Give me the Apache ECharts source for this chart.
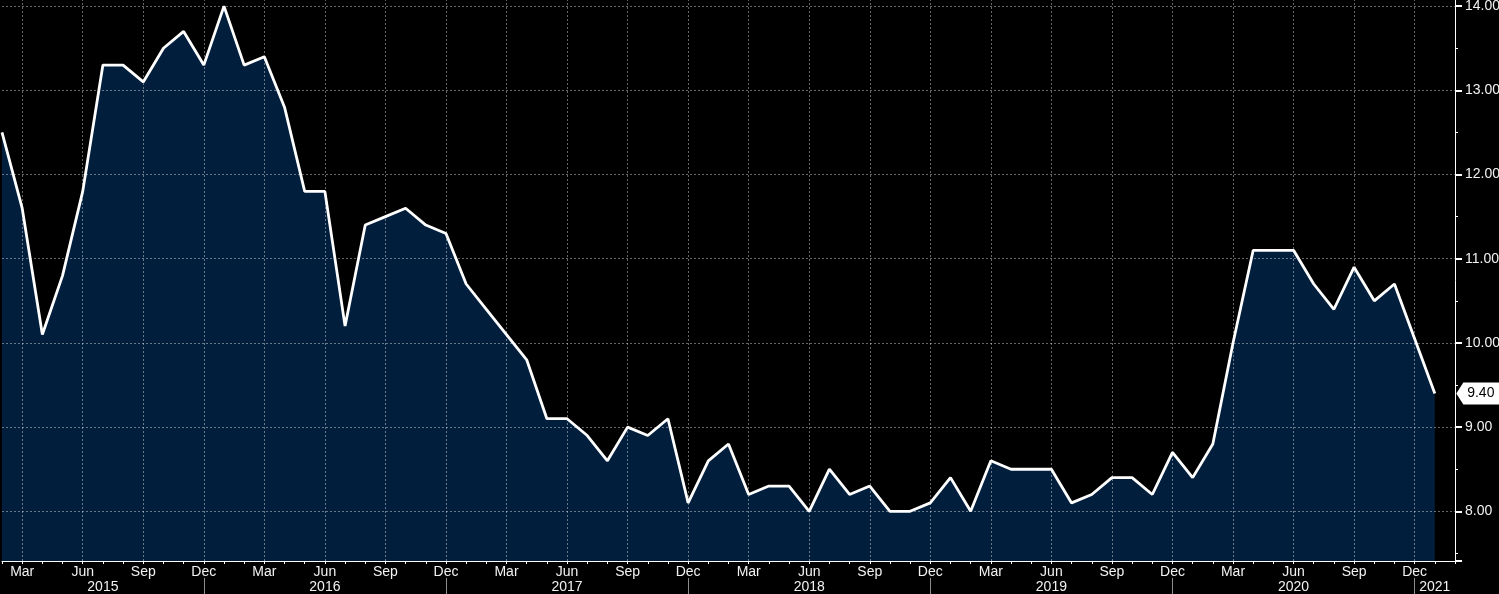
<!DOCTYPE html>
<html>
<head>
<meta charset="utf-8">
<script src="https://cdn.jsdelivr.net/npm/echarts@6/dist/echarts.min.js"></script>
<style>
  html, body { margin: 0; padding: 0; background: #000; }
  #chart { width: 1499px; height: 594px; }
</style>
</head>
<body>
<div id="chart"></div>
<script>
// monthly categories, Feb 2015 .. Feb 2021 (last one is empty room at the right edge)
const months = [
  'Feb 2015', 'Mar 2015', 'Apr 2015', 'May 2015', 'Jun 2015', 'Jul 2015', 'Aug 2015', 'Sep 2015', 'Oct 2015', 'Nov 2015', 'Dec 2015',
  'Jan 2016', 'Feb 2016', 'Mar 2016', 'Apr 2016', 'May 2016', 'Jun 2016', 'Jul 2016', 'Aug 2016', 'Sep 2016', 'Oct 2016', 'Nov 2016', 'Dec 2016',
  'Jan 2017', 'Feb 2017', 'Mar 2017', 'Apr 2017', 'May 2017', 'Jun 2017', 'Jul 2017', 'Aug 2017', 'Sep 2017', 'Oct 2017', 'Nov 2017', 'Dec 2017',
  'Jan 2018', 'Feb 2018', 'Mar 2018', 'Apr 2018', 'May 2018', 'Jun 2018', 'Jul 2018', 'Aug 2018', 'Sep 2018', 'Oct 2018', 'Nov 2018', 'Dec 2018',
  'Jan 2019', 'Feb 2019', 'Mar 2019', 'Apr 2019', 'May 2019', 'Jun 2019', 'Jul 2019', 'Aug 2019', 'Sep 2019', 'Oct 2019', 'Nov 2019', 'Dec 2019',
  'Jan 2020', 'Feb 2020', 'Mar 2020', 'Apr 2020', 'May 2020', 'Jun 2020', 'Jul 2020', 'Aug 2020', 'Sep 2020', 'Oct 2020', 'Nov 2020', 'Dec 2020',
  'Jan 2021', 'Feb 2021'
]

const values = [
  12.5, 11.6, 10.1, 10.8, 11.8, 13.3, 13.3, 13.1, 13.5, 13.7, 13.3,
  14.0, 13.3, 13.4, 12.8, 11.8, 11.8, 10.2, 11.4, 11.5, 11.6, 11.4, 11.3,
  10.7, 10.4, 10.1, 9.8, 9.1, 9.1, 8.9, 8.6, 9.0, 8.9, 9.1, 8.1,
  8.6, 8.8, 8.2, 8.3, 8.3, 8.0, 8.5, 8.2, 8.3, 8.0, 8.0, 8.1,
  8.4, 8.0, 8.6, 8.5, 8.5, 8.5, 8.1, 8.2, 8.4, 8.4, 8.2, 8.7,
  8.4, 8.8, 10.0, 11.1, 11.1, 11.1, 10.7, 10.4, 10.9, 10.5, 10.7, 10.05,
  9.4, null
]

// quarter months that get a label and a grid line
const monthTicks = ['Mar', 'Jun', 'Sep', 'Dec']
// where each year label sits (middle of the visible part of the year)
const yearLabelAt = ['Jul 2015', 'Jun 2016', 'Jun 2017', 'Jun 2018', 'Jun 2019', 'Jun 2020', 'Jan 2021']

const lastIdx = 71
const lastValue = values[lastIdx]

const font = '"Liberation Sans", Arial, sans-serif'
const gridLine = { show: true, lineStyle: { color: 'rgba(255,255,255,0.4)', width: 1, type: [2, 2] } }

const chart = echarts.init(document.getElementById('chart'))

const option = {
  backgroundColor: '#000',
  animation: false,
  grid: { left: 2, right: 44, top: -1, bottom: 33, containLabel: false, outerBoundsMode: 'none' },
  xAxis: [
    {
      type: 'category',
      data: months,
      boundaryGap: false,
      z: 2,
      axisLine: { show: true, lineStyle: { color: '#fff', width: 1 } },
      axisTick: { show: true, interval: 0, length: 3, lineStyle: { color: '#fff', width: 1 } },
      axisLabel: {
        interval: (i, v) => monthTicks.includes(v.slice(0, 3)),
        formatter: v => v.slice(0, 3),
        color: '#f2f2f2', fontSize: 14, fontFamily: font, margin: 4
      },
      splitLine: { ...gridLine, interval: (i, v) => monthTicks.includes(v.slice(0, 3)) }
    },
    {
      // year row underneath, with separators at each December
      type: 'category',
      data: months,
      boundaryGap: false,
      position: 'bottom',
      offset: 17,
      z: 2,
      axisLine: { show: false },
      axisTick: {
        show: true, interval: (i, v) => v.startsWith('Dec'), length: 16,
        lineStyle: { color: '#8c8c8c', width: 1 }
      },
      axisLabel: {
        interval: (i, v) => yearLabelAt.includes(v),
        formatter: v => v.slice(4),
        color: '#f2f2f2', fontSize: 14, fontFamily: font, margin: 2
      },
      splitLine: { show: false }
    }
  ],
  yAxis: {
    type: 'value',
    position: 'right',
    min: 7.41,
    max: 14.085,
    minInterval: 1,
    maxInterval: 1,
    z: 2,
    axisLine: { show: true, lineStyle: { color: '#fff', width: 1 } },
    axisTick: { show: true, length: 7, lineStyle: { color: '#fff', width: 2 } },
    minorTick: { show: true, splitNumber: 2, length: 3, lineStyle: { color: '#fff', width: 1 } },
    axisLabel: {
      formatter: v => v.toFixed(2),
      showMinLabel: false, showMaxLabel: false,
      color: '#f2f2f2', fontSize: 14, fontFamily: font, margin: 10
    },
    splitLine: gridLine
  },
  series: [
    {
      // navy fill, under the grid lines
      type: 'line',
      data: values,
      z: 1,
      symbol: 'none',
      lineStyle: { width: 0 },
      areaStyle: { color: '#011e3c', opacity: 1, origin: 'start' }
    },
    {
      type: 'line',
      data: values,
      z: 3,
      clip: false,
      symbol: 'none',
      lineStyle: { color: '#fff', width: 2.8 },
      markPoint: {
        silent: true,
        symbol: 'path://M0,11L7,0L43,0L43,22L7,22Z',
        symbolSize: [43, 22],
        symbolOffset: [43, 0],
        itemStyle: { color: '#fff' },
        label: {
          show: true, position: 'inside', offset: [3, 0],
          color: '#000', fontSize: 14, fontFamily: font,
          formatter: p => p.value.toFixed(2)
        },
        data: [{ coord: [months[lastIdx], lastValue], value: lastValue }]
      }
    }
  ]
}

chart.setOption(option)
</script>
</body>
</html>
